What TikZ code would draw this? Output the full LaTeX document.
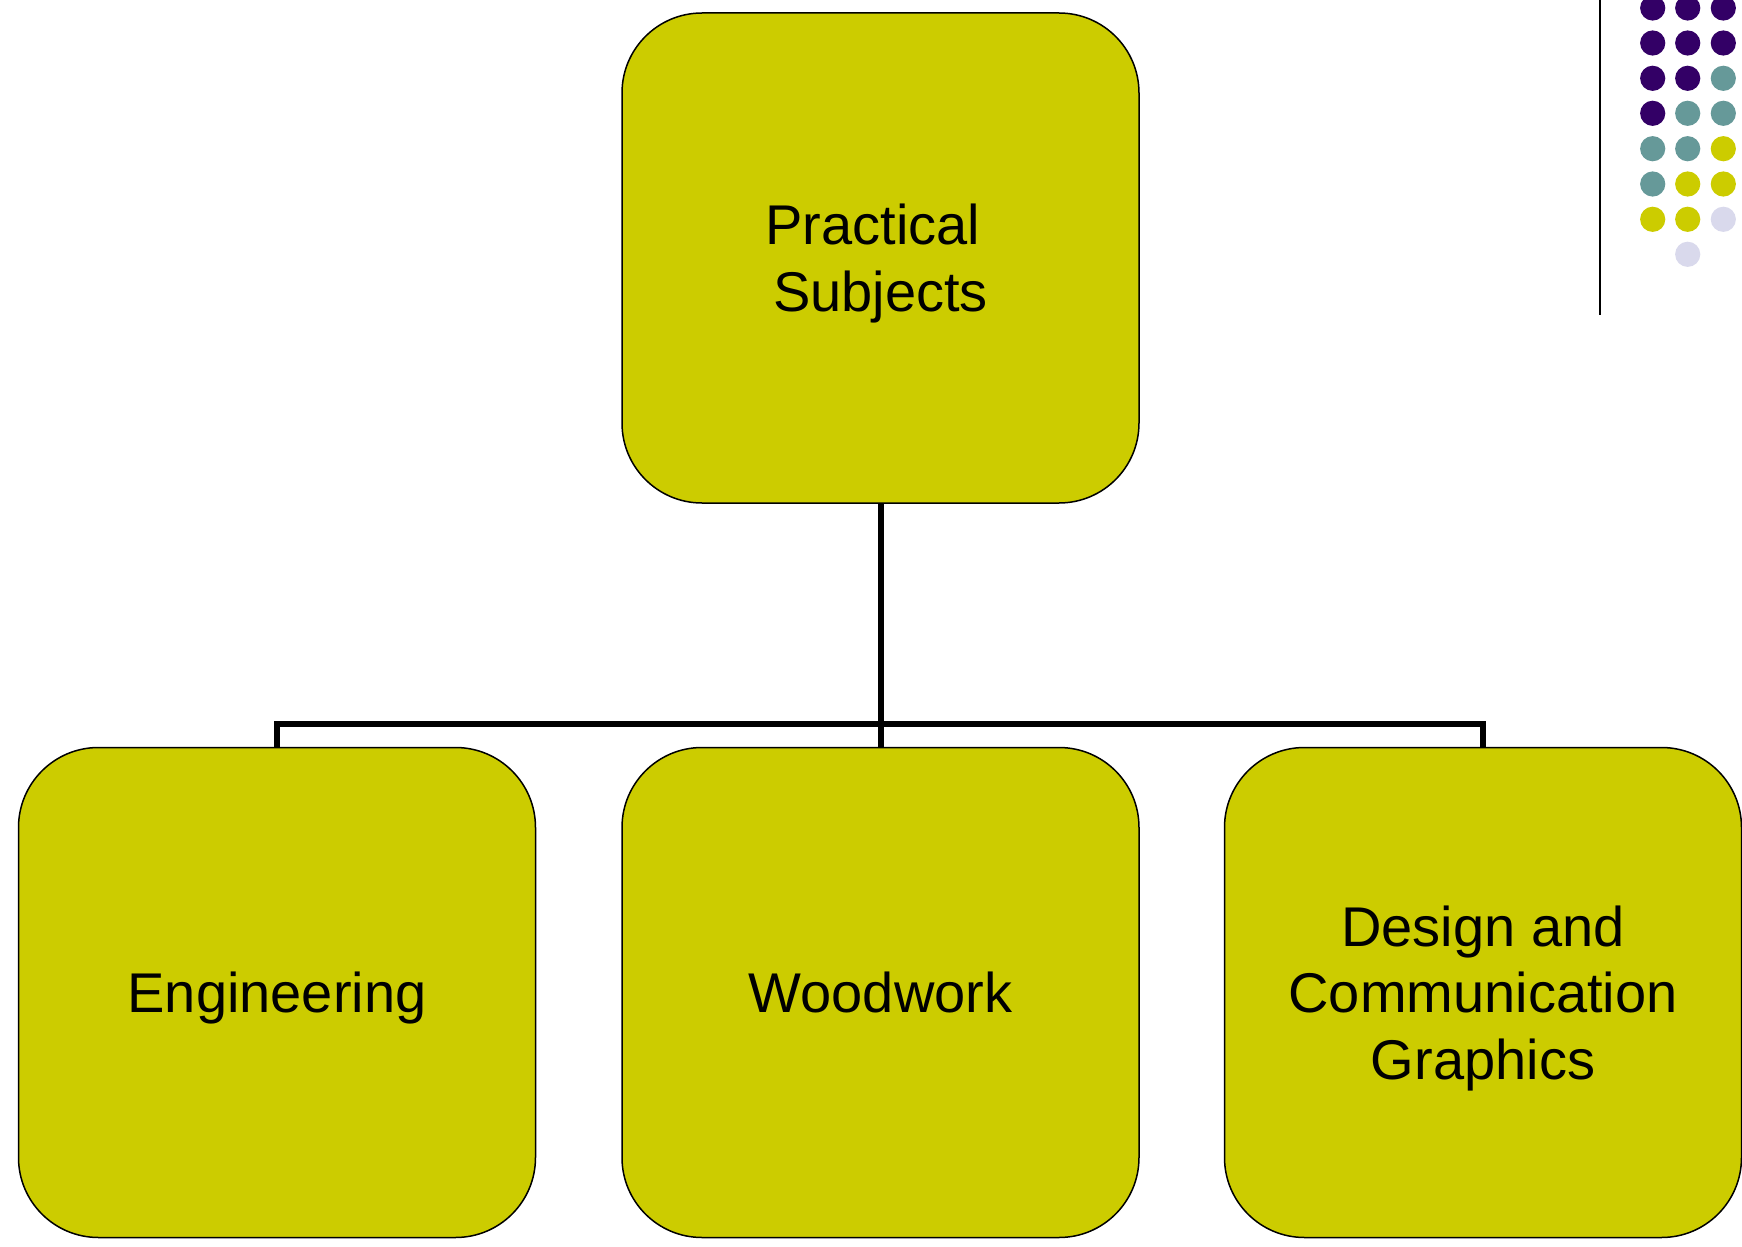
\documentclass[tikz,border=0pt]{standalone}
\usepackage{fontspec}
\setmainfont{Liberation Sans}
\definecolor{boxfill}{HTML}{CCCC00}
\definecolor{dpurple}{HTML}{330066}
\definecolor{dteal}{HTML}{669999}
\definecolor{dlav}{HTML}{D9D9EC}
\begin{document}
\begin{tikzpicture}[x=0.5pt,y=-0.5pt,
  subjbox/.style={draw=black,line width=0.75pt,fill=boxfill,rounded corners=40pt,
    minimum width=258.5pt,minimum height=245pt,align=center,inner sep=0pt,
    text depth=0pt,font=\fontsize{28}{33.3}\selectfont},
  conn/.style={line width=3pt,draw=black},
  dotp/.style={fill=dpurple},
  dott/.style={fill=dteal},
  doty/.style={fill=boxfill},
  dotl/.style={fill=dlav}]
\useasboundingbox (0,0) rectangle (1742,1247);
% decoration at top right
\draw[line width=1pt] (1600,0) -- (1600,315);
\foreach \y/\ca/\cb/\cc in {8/dotp/dotp/dotp, 43/dotp/dotp/dotp, 78.3/dotp/dotp/dott, 113.3/dotp/dott/dott, 148.7/dott/dott/doty, 184/dott/doty/doty, 219.3/doty/doty/dotl}{
  \fill[\ca] (1652.7,\y) circle (6.3pt);
  \fill[\cb] (1687.7,\y) circle (6.3pt);
  \fill[\cc] (1723.3,\y) circle (6.3pt);
}
\fill[dotl] (1687.7,254.3) circle (6.3pt);
% boxes
\node[subjbox] (top) at (880.5,258) {Practical\kern0.278em\\Subjects};
\node[subjbox] (eng) at (277,992.5) {Engineering};
\node[subjbox] (wood) at (880.5,992.5) {Woodwork};
\node[subjbox] (dcg) at (1483,992.5) {Design and\\Communication\\Graphics};
% connectors
\coordinate (bus) at (880.5,724);
\draw[conn] (top.south) -- (bus);
\draw[conn] (eng.north) |- (bus) -| (dcg.north);
\draw[conn] (bus) -- (wood.north);
\end{tikzpicture}
\end{document}
